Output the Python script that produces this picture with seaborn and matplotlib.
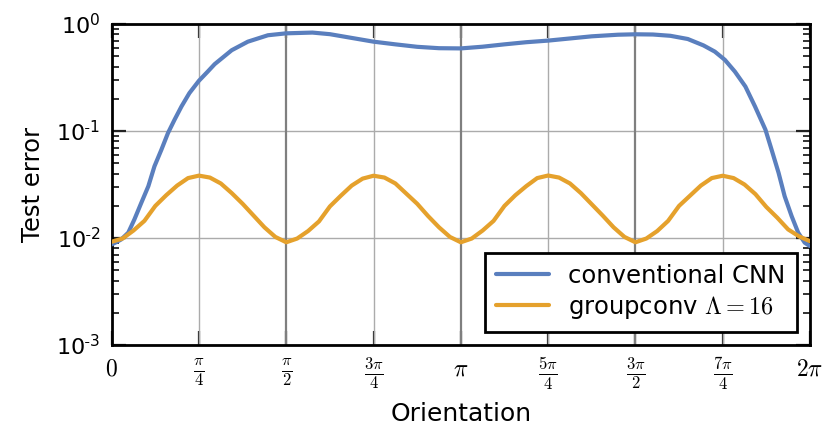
import numpy as np
import pandas as pd
import matplotlib
matplotlib.use("Agg")
import matplotlib.pyplot as plt
import seaborn as sns
from matplotlib.lines import Line2D
from matplotlib.ticker import FixedLocator, LogLocator, FuncFormatter, NullFormatter

# Orientation is given in units of pi/4; errors are stored as log10(test error).
conv_orient_q = [0.0, 0.05, 0.11, 0.19, 0.26, 0.34, 0.42, 0.49, 0.57, 0.645, 0.72,
                 0.80, 0.89, 1.0, 1.10, 1.18, 1.375, 1.56, 1.79, 2.0, 2.3,
                 2.5, 2.75, 3.0, 3.25, 3.5, 3.75, 4.0, 4.25, 4.5, 4.75, 5.0, 5.25,
                 5.5, 5.8, 6.0, 6.2, 6.4, 6.6, 6.78, 6.91, 7.025, 7.14, 7.26, 7.37,
                 7.49, 7.56, 7.64, 7.71, 7.79, 7.865, 7.94, 8.0]
conv_log_err = [-2.06, -2.04, -2.013, -1.95, -1.827, -1.67, -1.516, -1.33, -1.174, -1.019, -0.895,
                -0.77, -0.646, -0.53, -0.445, -0.375, -0.245, -0.165, -0.105, -0.087, -0.080,
                -0.095, -0.13, -0.165, -0.19, -0.213, -0.226, -0.228, -0.212, -0.19, -0.17, -0.155, -0.135,
                -0.115, -0.10, -0.096, -0.098, -0.11, -0.14, -0.20, -0.258, -0.335, -0.445, -0.584, -0.77,
                -0.988, -1.174, -1.39, -1.61, -1.796, -1.95, -2.044, -2.075]

group_orient_q = [i * 0.125 for i in range(65)]
group_log_err = [
    -2.035, -2.005, -1.93, -1.84, -1.70, -1.60, -1.51, -1.44, -1.417,
    -1.435, -1.49, -1.58, -1.68, -1.79, -1.90, -1.99, -2.04,
    -2.005, -1.935, -1.845, -1.705, -1.605, -1.51, -1.445, -1.418,
    -1.435, -1.49, -1.585, -1.68, -1.795, -1.90, -1.99, -2.04,
    -2.005, -1.93, -1.84, -1.70, -1.60, -1.515, -1.44, -1.416,
    -1.435, -1.49, -1.58, -1.685, -1.79, -1.90, -1.99, -2.04,
    -2.005, -1.935, -1.84, -1.70, -1.605, -1.51, -1.44, -1.418,
    -1.44, -1.50, -1.59, -1.71, -1.81, -1.92, -1.985, -2.03,
]

series_names = ["conventional CNN", r"groupconv $\Lambda = 16$"]
series_colors = ["#5A7FBE", "#E5A12C"]
xtick_labels = ["$0$", r"$\frac{\pi}{4}$", r"$\frac{\pi}{2}$", r"$\frac{3\pi}{4}$", r"$\pi$",
                r"$\frac{5\pi}{4}$", r"$\frac{3\pi}{2}$", r"$\frac{7\pi}{4}$", r"$2\pi$"]

df = pd.concat([
    pd.DataFrame({"theta": np.array(conv_orient_q) * np.pi / 4,
                  "err": np.power(10.0, conv_log_err), "model": series_names[0]}),
    pd.DataFrame({"theta": np.array(group_orient_q) * np.pi / 4,
                  "err": np.power(10.0, group_log_err), "model": series_names[1]}),
])

sns.set_style("white")
plt.rcParams["font.family"] = ["DejaVu Sans"]
plt.rcParams["mathtext.fontset"] = "cm"
plt.rcParams["text.color"] = "black"
plt.rcParams["axes.labelcolor"] = "black"
plt.rcParams["xtick.color"] = "black"
plt.rcParams["ytick.color"] = "black"

fig = plt.figure(figsize=(8.26, 4.32), dpi=100)
ax = fig.add_axes([0.1352, 0.2014, 0.8454, 0.743])

sns.lineplot(data=df, x="theta", y="err", hue="model", palette=series_colors,
             estimator=None, sort=False, linewidth=3.0, legend=False, ax=ax, zorder=3)

ax.set_yscale("log")
ax.set_ylim(1e-3, 1)
ax.set_xlim(0, 2 * np.pi)

# x ticks every pi/4
ax.xaxis.set_major_locator(FixedLocator([k * np.pi / 4 for k in range(9)]))
ax.set_xticklabels(xtick_labels)

def decade_label(v, pos):
    k = int(round(np.log10(v)))
    if k < 0:
        return r"$\mathdefault{10^{\text{-}%d}}$" % (-k)
    return r"$\mathdefault{10^{%d}}$" % k

ax.yaxis.set_major_locator(LogLocator(base=10, numticks=10))
ax.yaxis.set_minor_locator(LogLocator(base=10, subs=np.arange(2, 10), numticks=20))
ax.yaxis.set_major_formatter(FuncFormatter(decade_label))
ax.yaxis.set_minor_formatter(NullFormatter())

# grid: light lines at odd quarters and decades, darker at multiples of pi/2
ax.grid(False)
ax.yaxis.grid(True, which="major", color="#ababab", linewidth=1.0, zorder=1)
for k in range(1, 8):
    if k % 2:
        ax.axvline(k * np.pi / 4, color="#ababab", linewidth=1.0, zorder=1)
    else:
        ax.axvline(k * np.pi / 4, color="#7f7f7f", linewidth=1.6, zorder=1)

ax.tick_params(axis="both", which="major", direction="in", length=10, width=1.6,
               color="#222222", top=True, right=True, bottom=True, left=True)
ax.tick_params(axis="y", which="minor", direction="in", length=5, width=1.3,
               color="#222222", left=True, right=True)
ax.tick_params(axis="x", which="major", labelsize=17, pad=8)
ax.tick_params(axis="y", which="major", labelsize=16, pad=8)

for sp in ax.spines.values():
    sp.set_visible(True)
    sp.set_color("black")
    sp.set_linewidth(2.0)

ax.set_xlabel("Orientation", fontsize=18, labelpad=7)
ax.set_ylabel("Test error", fontsize=17.5, labelpad=8)

handles = [Line2D([], [], color=c, linewidth=3.0) for c in series_colors]
leg = ax.legend(handles, series_names, loc="lower right", fontsize=17.5,
                frameon=True, fancybox=False, edgecolor="black", framealpha=1,
                handlelength=2.2, handletextpad=0.8, borderaxespad=0.55,
                borderpad=0.45, labelspacing=0.25)
leg.get_frame().set_linewidth(2.0)

fig.savefig("out.png", dpi=100)
